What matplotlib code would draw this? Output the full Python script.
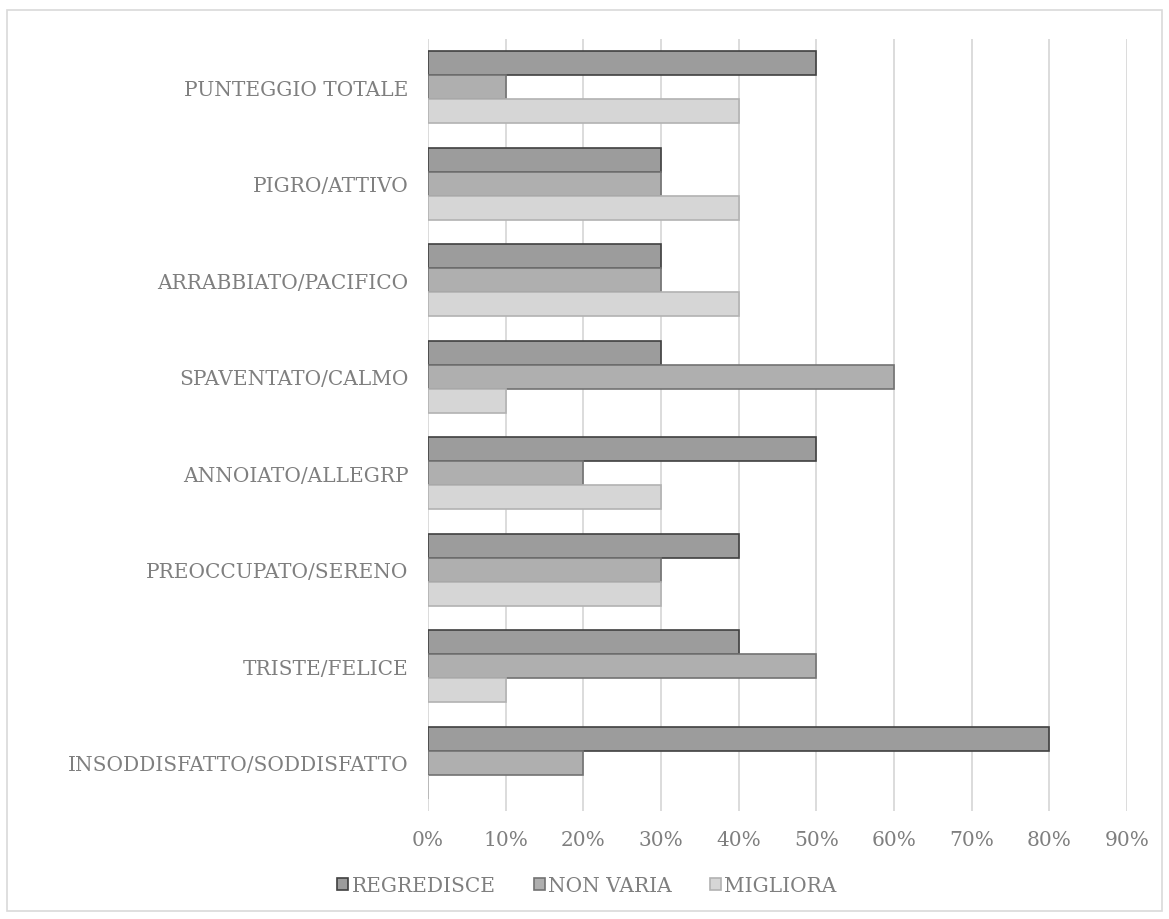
import numpy as np
import matplotlib.pyplot as plt
from matplotlib.patches import Rectangle
from matplotlib.ticker import FuncFormatter

categories = [
    "INSODDISFATTO/SODDISFATTO",
    "TRISTE/FELICE",
    "PREOCCUPATO/SERENO",
    "ANNOIATO/ALLEGRP",
    "SPAVENTATO/CALMO",
    "ARRABBIATO/PACIFICO",
    "PIGRO/ATTIVO",
    "PUNTEGGIO TOTALE",
]
regredisce = [0.80, 0.40, 0.40, 0.50, 0.30, 0.30, 0.30, 0.50]
non_varia = [0.20, 0.50, 0.30, 0.20, 0.60, 0.30, 0.30, 0.10]
migliora = [0.00, 0.10, 0.30, 0.30, 0.10, 0.40, 0.40, 0.40]
x_ticks = [0.0, 0.1, 0.2, 0.3, 0.4, 0.5, 0.6, 0.7, 0.8, 0.9]

TEXT = "#7f7f7f"
FS = 14.5
plt.rcParams["font.family"] = ["DejaVu Serif"]

fig = plt.figure(figsize=(11.69, 9.2), dpi=100)
ax = fig.add_axes([0.366, 0.1174, 0.598, 0.8391])

y = np.arange(len(categories))
h = 0.25
series = [
    ("REGREDISCE", regredisce, h, "#9c9c9c", "#404040"),
    ("NON VARIA", non_varia, 0, "#afafaf", "#727272"),
    ("MIGLIORA", migliora, -h, "#d6d6d6", "#b2b2b2"),
]
for name, vals, off, fc, ec in series:
    ax.barh(y + off, vals, height=h, color=fc, edgecolor=ec, linewidth=1.2,
            label=name, zorder=3)

ax.set_xlim(0, 0.9)
ax.set_ylim(-0.5, len(categories) - 0.5)
ax.set_xticks(x_ticks)
ax.xaxis.set_major_formatter(FuncFormatter(lambda v, p: f"{v * 100:.0f}%"))
ax.set_yticks(y)
ax.set_yticklabels(categories)
ax.grid(axis="x", color="#d9d9d9", linewidth=1.3, zorder=0)
for s in ax.spines.values():
    s.set_visible(False)
ax.tick_params(axis="both", length=0, colors=TEXT, labelsize=FS)
ax.tick_params(axis="y", pad=14)
ax.tick_params(axis="x", pad=14)

leg = fig.legend(loc="center", bbox_to_anchor=(0.502, 0.036), ncol=3,
                 frameon=False, fontsize=FS, handlelength=0.55,
                 handleheight=0.55, handletextpad=0.15, columnspacing=1.9,
                 labelcolor=TEXT)

fig.patches.append(Rectangle((0.006, 0.009), 0.988, 0.979,
                             transform=fig.transFigure, fill=False,
                             edgecolor="#d9d9d9", linewidth=1.2))

fig.savefig("out.png", dpi=100)
